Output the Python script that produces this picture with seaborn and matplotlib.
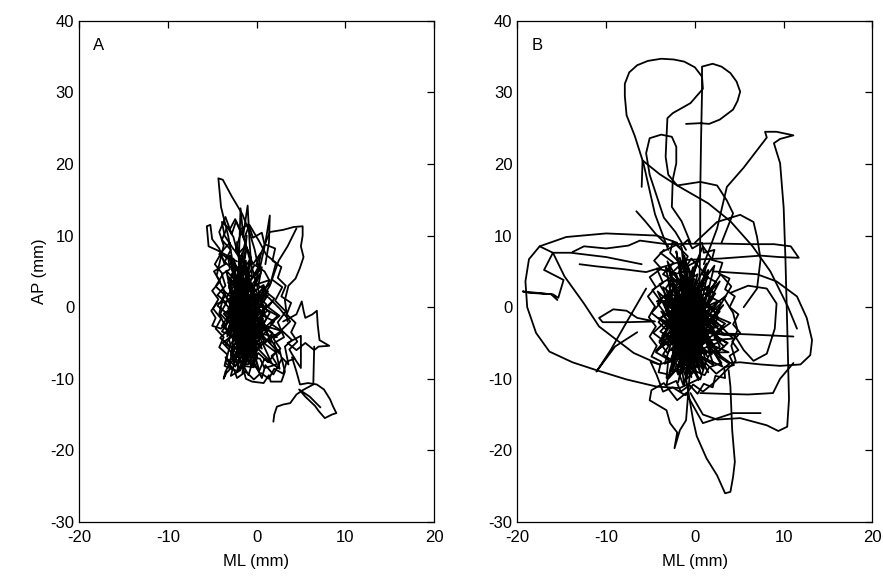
import numpy as np
import pandas as pd
import seaborn as sns
import matplotlib.pyplot as plt

# ---- panel A: centre of pressure path (ML, AP) in mm ----
a_core = [(-1.0, -1.0), (-2.1, 4.2), (-1.5, -3.8), (-0.2, 2.5), (-2.8, -2.0), (-1.2, 6.5), (-0.5, -5.2),
          (-2.5, 1.8), (0.6, -2.4), (-1.8, -6.3), (-2.9, 3.5), (-0.8, 0.4), (-3.3, -4.1), (-1.1, 8.2),
          (0.9, -0.8), (-2.0, -7.4), (-1.4, 2.9), (-3.6, 0.6), (0.2, -4.4), (-2.3, 5.8), (-0.3, -1.9),
          (-2.7, -5.6), (1.3, 1.7), (-1.6, -2.6), (-3.0, 7.2), (-0.9, -7.9), (-1.9, 0.9), (0.5, 4.8),
          (-2.6, -3.3), (-1.3, -0.2), (-3.8, 2.4), (-0.1, -6.6), (-2.2, 9.1), (-1.0, -4.7), (1.0, -3.1),
          (-2.4, -1.1), (-3.4, 5.1), (-0.6, 1.3), (-1.7, -8.6), (0.3, 0.0), (-2.9, -6.8), (-1.5, 4.0),
          (-2.0, -2.2), (1.6, -5.0), (-0.7, 3.3), (-3.1, -0.6), (-1.2, -5.9), (-2.6, 6.8), (0.0, -2.8),
          (-1.8, 1.5), (-0.4, -8.2), (-3.5, -2.9), (-1.1, 10.0), (-2.3, -4.6), (0.8, 2.1), (-1.6, -1.5),
          (-2.8, 0.2), (-0.2, -3.6), (-2.1, -9.0), (1.2, -1.4), (-3.2, 4.3), (-0.9, -0.6), (-1.9, -5.1),
          (0.4, 6.0), (-2.5, -0.3), (-1.4, -7.0), (2.0, -2.0), (-3.0, 1.2), (-0.5, -4.0), (-2.2, 3.0),
          (-1.0, -2.5), (1.8, 0.8), (-2.7, -4.4), (-1.6, 7.6), (0.1, -7.2), (-3.3, -1.8), (-0.8, 4.4),
          (-1.3, -3.2), (2.3, -4.2), (-2.0, 0.0), (-0.6, -6.0), (-2.4, 2.2), (1.5, 3.8), (-1.7, -3.9),
          (-3.7, -0.9), (-0.3, 1.9), (-2.1, -6.1), (0.7, -1.6), (-1.5, 5.3), (-2.9, -3.0), (-0.4, -0.4),
          (2.6, -6.5), (-1.1, -1.6), (-2.6, -8.0), (0.9, 2.9), (-1.9, -0.9), (-3.1, 3.0), (-0.2, -5.0),
          (-1.4, 0.6), (1.7, -7.8), (-2.3, -2.6), (-0.7, 7.0), (-1.7, -4.5), (0.5, -3.0), (-2.8, 1.0),
          (-1.2, -6.8), (2.8, -3.3), (-2.0, -1.6), (-0.9, 3.8), (-3.4, -3.6), (-0.1, -1.2), (-1.6, -9.2),
          (1.1, 0.4), (-2.5, 4.6), (-1.3, -2.0), (0.3, -8.8), (-2.2, -0.5), (-1.0, 1.1), (2.4, -1.2),
          (-2.7, -7.0), (-0.5, -3.4), (-1.8, 2.6), (0.6, -5.8), (-3.0, -1.4), (-1.1, 0.2)]
a_wander = [(-2.0, -2.0), (-1.2, -0.5), (-2.5, 0.8), (-1.8, 2.6), (-3.2, 3.4), (-2.4, 5.1), (-3.6, 6.3),
            (-2.9, 8.0), (-3.9, 9.4), (-3.3, 11.2), (-2.6, 9.8), (-2.1, 7.4), (-1.2, 8.6), (-0.6, 6.9),
            (-1.5, 5.2), (-0.4, 4.1), (0.6, 5.6), (0.2, 3.0), (1.3, 2.2), (0.4, 0.6), (1.5, -0.8),
            (0.7, -2.5), (1.8, -3.6), (0.9, -5.1), (2.2, -6.3), (1.3, -7.7), (0.2, -6.4), (-0.6, -8.1),
            (-1.5, -6.7), (-2.4, -8.3), (-2.9, -6.2), (-3.8, -5.0), (-2.7, -3.9), (-3.9, -2.6), (-3.1, -1.1),
            (-4.4, 0.2), (-3.5, 1.6), (-4.6, 2.9), (-3.8, 4.6), (-4.7, 6.0), (-4.0, 7.5), (-3.0, 6.6),
            (-2.2, 4.0), (-1.0, 2.8), (-1.9, 1.0), (-0.8, -0.6), (-1.7, -2.0), (-0.5, -3.3), (-1.6, -4.6),
            (-0.3, -5.4), (-1.1, -7.0), (0.3, -8.9), (0.9, -7.2), (2.6, -8.6), (2.0, -5.0), (3.1, -4.2),
            (2.4, -2.1), (3.3, -0.6), (2.1, 0.9), (2.9, 2.8), (1.7, 3.9), (2.2, 6.2), (1.1, 7.3),
            (0.3, 9.2), (-0.8, 11.5), (-1.4, 9.6), (-2.3, 12.0), (-2.8, 10.2), (-3.5, 12.6), (-4.2, 10.5),
            (-3.7, 8.6), (-4.5, 4.4), (-3.6, 2.2), (-4.2, -0.9), (-3.3, -3.3), (-4.1, -4.3), (-3.0, -5.4),
            (-3.5, -7.8), (-2.2, -9.0), (-1.9, -7.2), (-0.9, -9.5), (-0.4, -7.4), (0.6, -9.9), (1.0, -8.1),
            (1.9, -9.4), (2.9, -7.1), (3.6, -8.0), (3.2, -5.5), (4.0, -4.6), (2.8, -3.2), (3.8, -2.0),
            (2.6, -0.2), (1.4, 1.3), (0.4, 2.1), (-0.4, 0.5), (0.6, -1.1), (-0.3, -2.1), (0.8, -3.8),
            (-0.2, -4.5), (-1.3, -3.0), (-2.2, -4.9), (-1.4, -5.8), (-2.6, -6.9), (-1.8, -8.8), (-2.9, -9.6),
            (-2.0, -5.5), (-2.8, -2.8), (-2.0, -0.7), (-2.9, 1.4), (-2.1, 3.1), (-2.8, 4.6), (-1.6, 6.3),
            (-2.4, 7.8), (-1.7, 10.6), (-1.0, 7.9), (-0.4, 6.0), (0.5, 7.6), (0.1, 4.8), (-0.9, 3.6),
            (-0.2, 1.3), (-1.1, 0.3), (-2.0, -1.2), (-1.0, -1.8)]
a_dense = [(-1.5, -1.5), (-2.3, -0.4), (-1.7, 0.9), (-2.6, 2.0), (-1.9, 3.3), (-1.1, 1.9), (-0.4, 2.9),
           (0.3, 1.5), (-0.5, 0.2), (0.4, -0.9), (-0.4, -1.9), (0.5, -3.0), (-0.3, -4.1), (0.4, -5.6),
           (-0.5, -6.5), (-1.4, -5.3), (-2.1, -6.2), (-2.8, -5.0), (-2.2, -3.6), (-3.0, -2.4), (-2.3, -1.5),
           (-3.2, -0.2), (-2.5, 1.2), (-3.1, 2.7), (-2.3, 3.8), (-1.5, 2.6), (-0.8, 3.9), (-0.2, 2.3),
           (0.8, 3.1), (0.5, 0.8), (1.2, -0.5), (0.3, -1.6), (1.1, -2.7), (0.2, -3.6), (0.9, -4.8),
           (-0.1, -5.3), (-0.9, -4.3), (-1.7, -5.1), (-1.3, -3.3), (-2.1, -2.6), (-1.4, -1.1), (-2.0, 0.2),
           (-1.2, 1.0), (-1.8, -0.6), (-0.9, -2.4), (-1.8, -3.9), (-2.6, -4.4), (-3.3, -3.4), (-2.6, -2.0),
           (-3.5, -1.1), (-2.7, 0.4), (-3.4, 1.3), (-2.6, 2.9), (-1.6, 4.6), (-0.9, 2.5), (-0.1, 1.0),
           (0.8, -0.2), (0.0, -1.3), (-1.0, -0.8), (-1.6, -2.0), (-0.7, -3.2), (-1.2, -4.8), (-0.4, -6.1),
           (-1.3, -7.3), (-2.2, -5.6), (-1.5, -4.2), (-2.4, -3.1), (-1.7, -1.6)]
a_dense2 = [(-1.0, -3.0), (-1.9, -2.1), (-1.2, -0.9), (-2.1, 0.3), (-1.5, 1.6), (-2.4, 2.4), (-1.8, -1.3),
            (-2.7, -2.9), (-2.0, -4.2), (-2.8, -5.9), (-1.9, -6.7), (-1.1, -5.6), (-0.6, -6.9), (0.2, -5.9),
            (-0.5, -4.8), (0.3, -3.9), (-0.6, -2.7), (0.2, -1.7), (-0.7, -0.5), (0.1, 0.6), (-0.9, 1.4),
            (-0.3, 2.5), (-1.3, 3.1), (-2.0, 2.0), (-1.4, 0.1), (-2.5, -0.8), (-1.6, -2.5), (-2.5, -3.6),
            (-1.4, -4.0), (-2.3, -5.1), (-1.2, -6.2), (-0.2, -7.3), (-1.0, -8.0), (-2.0, -7.7), (-2.6, -6.7),
            (-3.1, -4.5), (-2.4, -1.6), (-3.0, 0.5), (-2.2, 1.2), (-1.0, 0.6), (-0.2, -0.9), (-1.1, -2.0),
            (-0.3, -3.2), (-1.3, -5.0), (-0.4, -5.3), (-1.0, -3.0)]
a_edge = [(-3.0, 9.0), (-4.2, 7.4), (-3.4, 6.1), (-4.8, 5.0), (-4.1, 3.6), (-5.0, 2.3), (-4.3, 1.1),
          (-4.9, -0.2), (-4.0, -1.6), (-4.6, -3.0), (-3.7, -4.2), (-4.2, -5.6), (-3.3, -6.6), (-3.6, -8.2),
          (-2.5, -8.8), (-2.2, -9.9), (-1.2, -9.0), (-0.3, -10.1), (0.5, -9.2), (1.4, -10.0), (2.0, -8.6),
          (3.0, -9.3), (3.4, -7.6), (4.3, -7.2), (3.7, -5.9), (4.6, -4.8), (3.9, -3.5), (4.4, -2.2),
          (3.4, -1.0), (3.9, 0.6), (2.8, 1.5), (3.3, 3.0), (2.4, 4.1), (2.8, 5.6), (1.8, 6.5), (2.1, 8.2),
          (0.9, 8.8), (0.6, 10.4), (-0.4, 9.7), (-0.9, 11.6), (-1.9, 10.8), (-2.4, 12.3), (-3.0, 10.9),
          (-3.9, 11.9), (-3.6, 10.0), (-2.6, 8.1), (-1.4, 6.7), (-2.2, 5.1), (-0.9, 4.6), (-0.2, 5.9),
          (0.9, 5.0), (1.6, 3.4), (0.8, 2.4), (2.0, 1.2), (1.3, 0.0), (2.6, -1.2), (1.6, -2.3), (2.9, -3.4),
          (1.9, -4.4), (2.7, -5.8), (1.7, -6.8), (2.3, -8.0), (0.9, -8.5), (0.4, -7.2), (-0.8, -6.9),
          (-0.3, -8.4), (-1.5, -8.2), (-2.0, -6.9), (-3.0, -7.4), (-2.5, -5.9), (-3.5, -5.2), (-2.8, -4.0),
          (-3.9, -3.4), (-3.2, -2.1), (-4.1, -0.9), (-3.4, 0.6), (-4.4, 1.7), (-3.5, 3.0), (-3.9, 4.6),
          (-3.0, 5.3), (-3.2, 7.0), (-2.2, 6.4)]
a_spike = [(-2.5, 5.0), (-3.2, 10.0), (-4.0, 14.0), (-4.3, 18.0), (-3.8, 17.8), (-2.8, 15.5), (-1.6, 13.0),
           (-0.8, 10.5), (-0.2, 8.0), (0.3, 5.0), (1.0, 9.0), (1.5, 12.8), (1.4, 9.0), (1.0, 6.0)]
a_spike2 = [(-2.0, 6.0), (-1.8, 13.8), (-1.5, 10.0), (-1.0, 14.2), (-0.8, 9.5), (-0.5, 4.0)]
a_bracket = [(-3.0, 7.0), (-4.5, 8.0), (-5.4, 8.5), (-5.6, 11.3), (-5.2, 11.5), (-5.0, 9.5), (-4.2, 8.2),
             (-3.6, 6.0)]
a_rloop = [(0.0, 6.0), (1.5, 10.5), (3.0, 10.8), (4.2, 11.2), (5.2, 11.3), (5.2, 10.0), (5.0, 8.5),
           (5.3, 7.0), (4.9, 5.5), (4.4, 4.0), (3.6, 3.0), (3.2, 1.0), (3.5, -2.0)]
a_rdiag = [(4.5, 11.0), (3.5, 8.5), (2.5, 6.5), (1.5, 3.0), (0.5, 1.0)]
a_lbulge = [(-2.5, 1.0), (-4.5, 0.5), (-5.1, -0.5), (-4.6, -1.5), (-5.0, -2.6), (-4.0, -3.0), (-3.2, -2.0)]
a_bdiag = [(-1.5, -6.0), (-2.4, -7.2), (-3.0, -7.8), (-3.5, -9.0), (-3.7, -10.0), (-3.4, -9.2),
           (-2.8, -8.4), (-3.5, -7.0), (-2.6, -8.0)]
a_bottom = [(-1.5, -8.5), (-1.2, -10.0), (-0.5, -10.4), (0.8, -10.6), (1.4, -9.5), (1.6, -10.4),
            (2.8, -10.4), (3.2, -9.0), (2.6, -6.0)]
a_rlobe = [(3.0, -2.0), (4.5, -1.0), (5.1, 0.8), (5.3, -0.5), (5.5, -1.5), (6.3, -1.0), (6.8, -0.5),
           (6.9, -2.5), (7.1, -4.6), (8.2, -5.4), (7.0, -5.5), (6.5, -6.0), (5.5, -5.0), (4.5, -6.0),
           (3.5, -5.0), (5.0, -4.0), (5.0, -8.5), (4.2, -7.0)]
a_lower = [(4.0, -7.0), (4.5, -9.0), (4.9, -10.8), (5.8, -10.6), (6.8, -10.8), (7.6, -11.5), (8.3, -12.9),
           (8.6, -13.8), (9.0, -14.8), (8.5, -15.0), (7.7, -15.5), (7.0, -14.5), (6.6, -13.8), (5.5, -12.5),
           (4.8, -11.5), (6.0, -12.5), (7.2, -14.0)]
a_tail = [(6.5, -5.5), (6.4, -10.8), (5.2, -11.6), (4.5, -12.2), (3.8, -13.4), (3.0, -13.6), (2.3, -13.9),
          (2.0, -15.0), (1.9, -16.0)]

# ---- panel B ----
b_core = [(-1.0, -2.0), (-2.5, 3.1), (0.8, -6.4), (-3.6, -1.2), (1.9, 2.4), (-1.4, -8.9), (-0.2, 5.6),
          (-3.1, -5.3), (2.6, -2.7), (-2.0, 1.0), (0.4, -10.2), (-4.2, 2.2), (1.2, -4.1), (-1.7, 6.9),
          (-0.6, -5.7), (3.2, 0.3), (-2.8, -7.6), (0.0, 1.8), (-3.9, -3.4), (2.1, -8.1), (-1.1, 4.3),
          (-2.3, -2.6), (1.5, 5.2), (-0.9, -9.6), (-3.4, 0.4), (3.6, -5.0), (-1.6, -0.8), (0.6, 7.4),
          (-2.7, -4.2), (1.0, -1.5), (-4.4, -6.1), (2.8, 3.6), (-0.4, -3.8), (-2.1, 7.8), (0.2, -7.3),
          (-3.2, 1.6), (4.0, -2.2), (-1.3, -6.8), (-0.1, 2.9), (-2.9, -9.2), (1.7, -0.4), (-1.8, 5.0),
          (0.9, -8.7), (-3.8, -0.6), (2.4, -5.9), (-0.7, 0.6), (-2.4, -3.1), (1.3, 6.1), (-1.2, -10.8),
          (-3.0, 3.9), (3.0, -7.0), (-0.5, -1.3), (-2.2, -5.5), (2.0, 1.2), (-4.0, -4.7), (0.5, -3.2),
          (-1.5, 8.3), (-0.3, -6.2), (-3.5, -2.0), (3.4, -3.9), (-1.9, 2.0), (0.7, -9.4), (-2.6, -0.1),
          (1.6, 3.0), (-1.0, -7.7), (-3.3, 5.6), (2.5, -1.0), (-0.8, -4.6), (-2.0, -8.4), (1.1, 0.8),
          (-4.3, 0.8), (0.3, 4.6), (-1.4, -3.5), (3.8, -6.3), (-2.5, -6.4), (-0.2, -0.2), (-3.0, -10.0),
          (1.8, -3.3), (-1.7, 3.5), (0.1, -5.2), (-3.7, -4.0), (2.2, 5.8), (-0.6, -8.0), (-2.3, 1.3),
          (1.4, -6.9), (-1.1, -1.9), (-3.1, 6.4), (0.8, -2.3), (-2.0, -4.9), (4.3, -4.4), (-1.3, 2.6),
          (-0.4, -9.8), (-2.8, -2.3), (2.7, 0.9), (-1.6, -7.1), (-3.6, 2.8), (0.4, -1.0), (-1.9, -10.5),
          (1.0, 3.9), (-2.6, -5.0), (3.1, -8.3), (-0.9, 0.0), (-2.2, 4.8), (0.6, -4.3), (-4.1, -1.5),
          (1.9, -6.6), (-1.2, 7.2), (-0.1, -7.5), (-3.2, -3.7), (2.3, -2.0), (-1.8, 0.3), (-0.7, -6.0),
          (-2.9, 1.9), (1.5, -9.1), (-1.5, -2.7), (0.2, 6.5), (-3.4, -7.9), (2.9, -4.8), (-0.5, 2.2),
          (-2.4, -1.7), (1.2, -7.6), (-1.0, 4.9), (-3.9, -5.6), (0.9, -0.7), (-1.7, -9.0), (3.5, 1.6),
          (-2.1, -3.9), (-0.3, -2.9), (-2.7, 3.2), (1.7, -5.4), (-1.3, -0.3), (0.0, -8.5), (-3.5, 0.9),
          (2.0, -3.6), (-0.8, 5.8), (-2.3, -7.2), (1.0, -2.6), (-1.6, 1.4), (-0.2, -4.1), (-1.0, -2.0)]
b_wander = [(-1.0, -3.0), (-2.6, -1.6), (-1.4, 0.3), (-3.1, 1.5), (-2.0, 3.4), (-3.6, 4.6), (-2.4, 6.2),
            (-3.9, 7.6), (-2.1, 8.7), (-0.8, 7.1), (-1.5, 5.3), (0.2, 6.4), (0.9, 8.5), (1.8, 6.9),
            (0.8, 4.6), (2.4, 3.5), (1.2, 1.8), (3.0, 0.6), (1.6, -1.0), (3.4, -2.3), (2.0, -3.9),
            (3.7, -5.0), (2.3, -6.6), (3.9, -7.9), (2.4, -9.3), (1.2, -7.8), (0.6, -10.1), (-0.5, -8.4),
            (-1.3, -10.9), (-2.0, -8.6), (-3.2, -9.9), (-3.0, -7.3), (-4.4, -6.3), (-3.3, -4.9), (-4.7, -3.6),
            (-3.5, -2.2), (-4.9, -0.8), (-3.8, 0.7), (-4.8, 2.4), (-3.6, 3.4), (-4.3, 5.4), (-2.9, 5.0),
            (-2.2, 2.1), (-0.9, 3.0), (-0.2, 1.1), (-1.3, -0.7), (0.0, -1.8), (-1.1, -3.7), (0.3, -4.6),
            (-0.8, -6.1), (0.6, -7.3), (-0.4, -9.2), (-1.6, -7.1), (-2.6, -6.0), (-1.8, -4.4), (-2.9, -3.4),
            (-2.1, -1.8), (-3.3, -0.5), (-2.5, 1.0), (-1.2, 1.9), (0.7, 0.4), (1.8, 2.5), (2.9, 4.6),
            (4.1, 2.9), (3.3, 1.2), (4.3, -0.8), (4.8, -3.2), (4.1, -5.4), (4.6, -7.5), (3.4, -9.0),
            (2.1, -10.6), (0.9, -11.8), (-0.2, -10.8), (-1.1, -12.3), (-2.5, -11.2), (-3.6, -11.8),
            (-4.3, -9.5), (-5.0, -7.6), (-4.0, -8.0), (-2.5, -7.4), (-1.9, -9.4), (-0.9, -7.7), (0.1, -6.0),
            (1.1, -5.0), (0.4, -3.1), (1.4, -2.3), (0.6, -0.5), (-0.6, 0.8), (-1.8, 0.0), (-2.7, -1.0),
            (-1.9, -2.7), (-0.7, -2.1), (-1.5, -5.2), (-0.3, -5.6), (0.9, -8.4), (1.7, -6.5), (2.8, -5.5),
            (1.9, -3.0), (2.6, -1.4), (1.5, 0.6), (2.3, 1.9), (0.9, 2.6), (-0.3, 4.2), (-1.5, 3.1),
            (-2.5, 4.1), (-3.3, 2.6), (-2.4, -0.3), (-3.9, -1.5), (-3.0, -3.0), (-4.0, -4.9), (-3.1, -6.4),
            (-2.1, -5.1), (-1.2, -6.3), (-0.4, -3.9), (-1.0, -1.2), (-1.9, -3.5), (-1.3, -2.5)]
b_dense = [(-1.2, -2.0), (-2.0, -0.9), (-1.3, 0.4), (-2.2, 1.6), (-1.4, 2.8), (-0.6, 1.5), (0.3, 2.4),
           (0.9, 0.9), (0.1, -0.4), (1.0, -1.6), (0.1, -2.8), (1.2, -3.9), (0.2, -5.0), (1.0, -6.3),
           (0.0, -7.2), (-0.9, -6.0), (-1.6, -7.4), (-2.4, -6.3), (-1.8, -5.0), (-2.7, -4.1), (-1.9, -3.0),
           (-2.9, -1.9), (-2.3, -0.6), (-3.0, 0.8), (-2.4, 2.3), (-1.7, 3.6), (-0.8, 2.6), (0.1, 3.5),
           (0.6, 1.9), (-0.1, 0.5), (-0.9, -0.5), (-0.2, -1.6), (-1.1, -2.6), (-0.4, -3.8), (-1.3, -4.5),
           (-0.6, -5.6), (0.3, -8.3), (-0.7, -8.8), (-1.5, -8.1), (-2.3, -8.9), (-2.7, -7.4), (-2.0, -6.8),
           (-1.1, -5.3), (-2.1, -4.5), (-1.5, -3.5), (-2.4, -2.6), (-1.6, -1.6), (-0.7, -0.8), (0.3, -1.1),
           (-0.5, -2.3), (0.5, -3.4), (-0.3, -4.6), (0.6, -5.3), (1.4, -4.6), (0.8, -2.2), (1.6, -1.2),
           (0.5, 0.1), (-0.5, 1.1), (-1.5, 1.2), (-1.0, -0.3), (-1.9, -1.2), (-1.0, -1.6), (-1.7, -2.8),
           (-0.9, -3.5), (-1.8, -4.1), (-0.8, -4.9), (-1.6, -6.1), (-0.5, -6.8), (0.4, -6.0), (-0.3, -3.1),
           (-1.2, -2.0)]
b_dense2 = [(-1.0, -4.0), (-1.8, -3.0), (-1.1, -1.8), (-2.0, -0.6), (-1.4, 0.7), (-2.3, 1.9), (-1.6, 3.0),
            (-0.8, 2.0), (0.0, 2.9), (0.5, 1.2), (-0.3, 0.0), (0.6, -1.0), (-0.2, -2.1), (0.7, -3.3),
            (-0.1, -4.2), (0.8, -5.4), (-0.1, -6.5), (0.6, -7.6), (-0.4, -8.6), (-1.2, -7.5), (-2.0, -8.2),
            (-2.6, -6.9), (-1.9, -5.8), (-2.8, -5.0), (-2.0, -3.9), (-2.9, -2.8), (-2.2, -1.6), (-3.1, -0.3),
            (-2.4, 1.0), (-1.7, -0.4), (-0.9, -1.2), (-1.6, -2.4), (-0.8, -3.4), (-1.7, -4.7), (-0.8, -5.2),
            (-1.6, -6.4), (-0.7, -7.0), (0.2, -6.1), (-0.6, -5.2), (0.3, -4.8), (1.1, -3.9), (0.3, -2.6),
            (1.2, -1.6), (0.2, -0.7), (-0.7, 0.5), (-1.5, -0.9), (-2.3, -2.3), (-1.4, -3.6), (-2.4, -4.4),
            (-1.5, -5.5), (-2.3, -6.3), (-1.0, -4.0)]
b_edge = [(-3.5, 8.0), (-4.6, 6.5), (-3.8, 5.4), (-5.1, 4.2), (-4.4, 2.8), (-5.3, 1.5), (-4.5, 0.1),
          (-5.2, -1.4), (-4.4, -2.7), (-5.1, -4.1), (-4.3, -5.4), (-4.9, -6.9), (-3.8, -7.6), (-4.1, -9.1),
          (-3.0, -9.4), (-3.2, -10.9), (-2.1, -10.3), (-1.6, -11.8), (-0.6, -10.9), (0.3, -12.1), (1.0, -10.7),
          (2.0, -11.2), (2.3, -9.6), (3.4, -9.9), (3.3, -8.4), (4.4, -8.1), (3.9, -6.8), (4.9, -6.0),
          (4.2, -4.8), (5.1, -3.6), (4.3, -2.4), (4.9, -1.0), (3.9, 0.0), (4.5, 1.5), (3.4, 2.5), (3.9, 4.0),
          (2.7, 4.7), (3.1, 6.2), (1.9, 6.6), (2.2, 8.0), (1.0, 7.6), (0.8, 9.0), (-0.3, 8.2), (-0.8, 9.4),
          (-1.7, 8.4), (-2.5, 9.2), (-2.8, 7.6), (-1.6, 6.0), (-2.9, 4.4), (-1.4, 4.9), (-0.4, 6.8),
          (0.6, 5.4), (1.5, 4.2), (0.9, 3.0), (2.2, 2.0), (1.4, 0.4), (2.8, -0.6), (1.9, -1.9), (3.2, -2.8),
          (2.2, -4.3), (3.3, -5.5), (2.3, -6.4), (3.0, -7.8), (1.6, -8.4), (1.1, -9.5), (0.0, -8.9),
          (-0.9, -10.0), (-1.4, -8.6), (-2.5, -9.0), (-2.4, -7.6), (-3.6, -6.6), (-2.9, -5.3), (-3.9, -4.6),
          (-3.2, -3.2), (-4.1, -2.1), (-3.4, -0.8), (-4.2, 0.5), (-3.3, 1.8), (-4.0, 3.2), (-3.0, 3.9)]
b_top = [(-3.0, 8.0), (-4.5, 13.0), (-5.8, 20.1), (-6.8, 24.0), (-7.7, 26.8), (-7.9, 29.5), (-7.9, 31.2),
         (-7.4, 32.8), (-6.5, 33.8), (-5.3, 34.4), (-3.8, 34.7), (-2.4, 34.6), (-1.2, 34.3), (0.0, 33.5),
         (0.8, 32.2), (0.9, 30.5), (-0.5, 28.5), (-2.5, 27.1), (-3.1, 26.4), (-3.2, 23.8), (-3.3, 21.0),
         (-3.0, 18.5), (-2.0, 17.0), (0.6, 17.5), (2.5, 17.0), (3.6, 14.9), (4.3, 13.1), (3.0, 9.0)]
b_top2 = [(0.5, 2.0), (0.6, 10.0), (0.6, 16.0), (0.7, 24.0), (0.8, 30.0), (0.8, 33.6), (2.0, 34.0),
          (3.0, 33.6), (4.0, 32.7), (4.7, 31.5), (5.1, 30.1), (4.8, 28.8), (4.3, 27.6), (2.8, 26.2),
          (1.6, 25.6), (0.6, 25.7), (-1.0, 25.6)]
b_mid = [(-1.0, 8.0), (-2.2, 10.5), (-3.5, 12.5), (-5.1, 18.5), (-5.5, 21.5), (-5.1, 23.6), (-3.8, 24.1),
         (-2.6, 23.8), (-2.1, 22.4), (-2.1, 20.1), (-2.5, 17.8), (-2.6, 14.0), (-1.5, 12.0), (-0.5, 9.0)]
b_diag = [(-6.0, 16.8), (-5.9, 20.5), (-4.0, 18.6), (-2.0, 17.0), (1.5, 14.5), (4.0, 12.0), (6.5, 8.5),
          (8.5, 5.0), (10.5, 0.0), (11.5, -3.0)]
b_stub = [(-6.6, 13.4), (-5.6, 12.0), (-4.4, 10.2), (-3.0, 8.5)]
b_arrow = [(1.0, 6.0), (2.5, 11.0), (3.6, 16.8), (5.5, 19.5), (8.1, 23.7), (7.9, 24.5), (9.2, 24.5),
           (11.1, 24.0), (9.6, 23.5), (8.9, 22.9), (9.6, 20.1), (10.0, 13.9), (10.2, 6.7), (10.4, -2.6),
           (10.6, -12.9), (10.4, -16.7), (9.4, -17.3), (8.1, -16.5), (5.1, -15.5), (2.5, -15.7),
           (0.9, -15.0), (-0.5, -12.0)]
b_left = [(-2.0, 9.0), (-4.3, 10.0), (-10.0, 10.3), (-14.5, 9.8), (-17.5, 8.5), (-18.7, 6.7), (-19.1, 3.6),
          (-18.9, 0.0), (-17.9, -3.6), (-16.4, -6.2), (-13.8, -7.7), (-11.1, -8.8), (-7.7, -10.1),
          (-4.3, -11.1), (-1.7, -11.3), (0.5, -10.0)]
b_small = [(-6.0, 6.0), (-10.0, 7.0), (-14.0, 7.6), (-16.0, 7.6), (-17.0, 5.2), (-14.8, 3.8),
           (-15.4, 1.3), (-16.0, 1.8), (-18.7, 2.0), (-19.4, 2.2), (-16.2, 1.8), (-15.5, 1.0)]
b_cross = [(-17.5, 8.5), (-16.0, 7.6), (-14.7, 4.3), (-12.5, 0.5), (-10.8, -2.7), (-6.9, -6.4),
           (-4.0, -8.0)]
b_hline = [(-13.8, 7.7), (-12.5, 8.5), (-10.0, 8.2), (-7.5, 8.6), (-6.2, 9.3), (-3.2, 8.8), (2.0, 8.9),
           (6.0, 8.8), (8.9, 8.8), (10.8, 8.5), (11.7, 6.9), (9.5, 7.0), (7.4, 7.2), (3.0, 6.8),
           (-1.0, 6.6), (-5.5, 4.9), (-8.0, 5.3), (-11.1, 5.7), (-13.0, 6.0)]
b_lmid = [(-5.5, 2.6), (-7.7, -2.1), (-10.4, -2.1), (-10.8, -1.5), (-9.2, -0.3), (-7.7, -0.5), (-6.5, -1.5),
          (-4.5, -2.0), (-7.7, -2.1), (-9.5, -6.0), (-11.1, -9.0), (-9.0, -5.5), (-6.5, -3.5)]
b_right = [(2.0, 5.0), (7.0, 4.6), (9.2, 3.6), (11.5, 1.5), (12.6, -1.5), (13.2, -4.6), (13.0, -6.7),
           (11.9, -8.0), (9.6, -8.2), (7.4, -8.0), (5.1, -7.7), (4.0, -7.8), (2.0, -6.0)]
b_right2 = [(4.0, 2.0), (6.0, 3.0), (8.1, 2.6), (9.2, 0.5), (9.0, -3.0), (8.1, -6.5), (6.6, -7.5),
            (5.5, -6.0), (4.5, -4.0), (1.3, -3.6), (6.0, -3.8), (11.1, -4.1)]
b_rtop = [(0.0, 9.0), (2.5, 11.9), (5.1, 12.9), (6.6, 11.9), (7.0, 9.8), (7.4, 6.7), (7.0, 2.6), (5.5, 0.0)]
b_low = [(0.6, -12.0), (3.0, -12.1), (6.0, -12.2), (8.8, -12.0), (9.6, -10.0), (11.1, -7.8)]
b_tear = [(-1.0, -10.0), (-0.2, -15.8), (0.2, -18.0), (1.3, -21.1), (2.5, -23.5), (3.4, -26.0),
          (4.0, -25.8), (4.3, -23.7), (4.5, -21.6), (4.2, -17.2), (4.0, -11.1), (3.8, -8.8)]
b_tail = [(-0.5, -8.0), (-1.0, -15.8), (-1.7, -17.2), (-2.3, -19.7), (-2.0, -17.5), (-2.8, -16.2),
          (-3.2, -14.4), (-5.1, -13.0), (-4.9, -11.6), (-3.5, -10.6), (-2.0, -13.0), (-1.0, -12.0),
          (0.9, -16.2), (4.3, -14.8), (7.4, -14.8)]

panel_a = [a_core, a_wander, a_dense, a_dense2, a_edge, a_spike, a_spike2, a_bracket, a_rloop, a_rdiag,
           a_lbulge, a_bdiag, a_bottom, a_rlobe, a_lower, a_tail]
panel_b = [b_core, b_wander, b_dense, b_dense2, b_edge, b_top, b_top2, b_mid, b_diag, b_stub, b_arrow,
           b_left, b_small, b_cross, b_hline, b_lmid, b_right, b_right2, b_rtop, b_low, b_tear, b_tail]

xticks = [-20, -10, 0, 10, 20]
yticks = [-30, -20, -10, 0, 10, 20, 30, 40]

sns.set_style('white')
plt.rcParams['font.family'] = ['Liberation Sans', 'DejaVu Sans']
plt.rcParams['axes.unicode_minus'] = False
plt.rcParams['xtick.direction'] = 'in'
plt.rcParams['ytick.direction'] = 'in'

fig = plt.figure(figsize=(8.83, 5.78), dpi=100)
ax1 = fig.add_axes([0.0895, 0.097, 0.402, 0.867])
ax2 = fig.add_axes([0.586, 0.097, 0.402, 0.867])


def trace(ax, pts):
    df = pd.DataFrame(pts, columns=['ml', 'ap'])
    sns.lineplot(data=df, x='ml', y='ap', sort=False, estimator=None, color='k', lw=1.3, ax=ax)


for seg in panel_a:
    trace(ax1, seg)
for seg in panel_b:
    trace(ax2, seg)

for ax, letter in [(ax1, 'A'), (ax2, 'B')]:
    ax.set_xlim(-20, 20)
    ax.set_ylim(-30, 40)
    ax.set_xticks(xticks)
    ax.set_yticks(yticks)
    ax.tick_params(axis='x', pad=6)
    ax.tick_params(top=True, right=True, length=5, width=0.9, labelsize=12, colors='k')
    for sp in ax.spines.values():
        sp.set_color('k')
        sp.set_linewidth(0.9)
    ax.set_xlabel('ML (mm)', fontsize=12, labelpad=6, color='k')
    ax.set_ylabel('')
    ax.text(0.04, 0.965, letter, transform=ax.transAxes, va='top', ha='left', fontsize=12, color='k')

ax1.set_ylabel('AP (mm)', fontsize=12, labelpad=2, color='k')

plt.savefig('out.png', dpi=100)
